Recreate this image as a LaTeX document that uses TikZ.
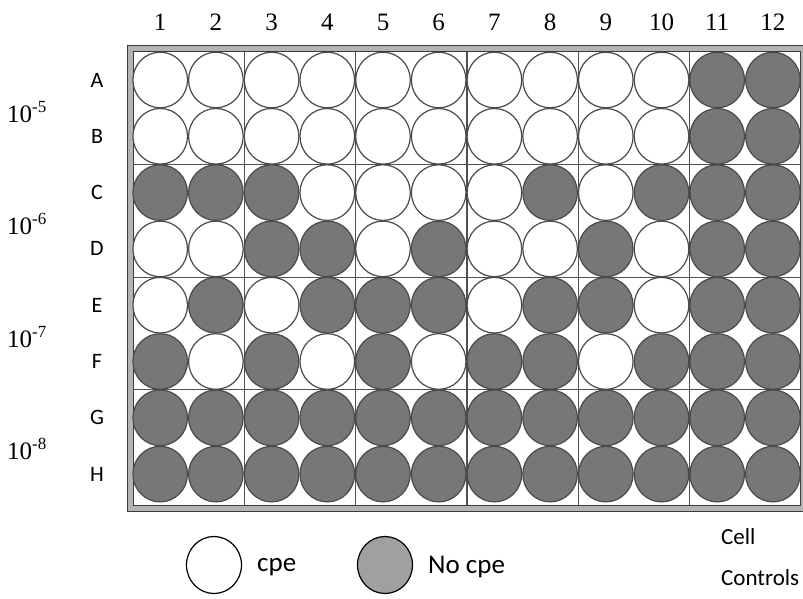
\documentclass[tikz,border=0pt]{standalone}
\usepackage{fontspec}
\setmainfont{Liberation Serif}
\newfontfamily\labfont{Carlito}
\usetikzlibrary{shapes.geometric}
\definecolor{wellgrey}{HTML}{777777}
\definecolor{wellline}{HTML}{4A4A4A}
\definecolor{framedark}{HTML}{3C3C3C}
\definecolor{frameband}{HTML}{B4B4B4}
\definecolor{divline}{HTML}{505050}
\definecolor{leggrey}{HTML}{A0A0A0}
\begin{document}
\begin{tikzpicture}[x=1pt,y=-1pt,
  well/.style={ellipse, draw=wellline, line width=1.2pt, minimum width=54.6pt, minimum height=55.6pt, inner sep=0pt},
  collab/.style={font=\fontsize{25}{29}\selectfont, inner sep=0pt},
  rowlab/.style={font=\labfont\fontsize{22}{26}\selectfont, inner sep=0pt},
  dil/.style={font=\fontsize{25}{29}\selectfont, inner sep=0pt, anchor=base west},
  legcirc/.style={ellipse, draw=black, line width=1.2pt, minimum width=55pt, minimum height=57pt, inner sep=0pt},
  leglab/.style={font=\labfont\fontsize{27}{32}\selectfont, inner sep=0pt, anchor=west},
  divider/.style={draw=divline, line width=1.3pt}]
\useasboundingbox (0,0) rectangle (803,598);
% plate frame
\draw[draw=framedark, fill=frameband, line width=1pt] (127.5,45.5) rectangle (812,511);
\draw[draw=gray!60, line width=0.7pt] (129.8,47.8) rectangle (810,508.7);
\draw[draw=framedark, fill=white, line width=1pt] (133,51.5) rectangle (800.5,505);
% block dividers
\foreach \k in {1,...,5}
  \draw[divider] ({133+\k*111.3},51.5) -- ({133+\k*111.3},505);
\foreach \k in {1,2,3}
  \draw[divider] (133,{52+\k*112.6}) -- (800.5,{52+\k*112.6});
% wells
\foreach \pat [count=\ri] in {
  {0,0,0,0,0,0,0,0,0,0,1,1},
  {0,0,0,0,0,0,0,0,0,0,1,1},
  {1,1,1,0,0,0,0,1,0,1,1,1},
  {0,0,1,1,0,1,0,0,1,0,1,1},
  {0,1,0,1,1,1,0,1,1,0,1,1},
  {1,0,1,0,1,0,1,1,0,1,1,1},
  {1,1,1,1,1,1,1,1,1,1,1,1},
  {1,1,1,1,1,1,1,1,1,1,1,1}} {
  \foreach \v [count=\ci] in \pat {
    \ifnum\v=1 \def\fc{wellgrey}\else\def\fc{white}\fi
    \node[well, fill=\fc] (w\ri-\ci) at ({160.2+(\ci-1)*55.7},{80+(\ri-1)*56.3}) {};
  }
}
% column labels
\foreach \ci in {1,...,12}
  \node[collab] (c\ci) at ({160.2+(\ci-1)*55.7},22) {\ci};
% row labels
\foreach \r [count=\ri] in {A,B,C,D,E,F,G,H}
  \node[rowlab] (r\r) at (97,{80+(\ri-1)*56.3}) {\r};
% dilutions
\foreach \e [count=\k] in {5,6,7,8}
  \node[dil] (d\e) at (7,{122+(\k-1)*112.6}) {10\raisebox{10pt}{\fontsize{17}{19}\selectfont -\e}};
% legend
\node[legcirc, fill=white] (lw) at (214,565) {};
\node[leglab] (lt1) at (257,567) {cpe};
\node[legcirc, fill=leggrey] (lg) at (385,565) {};
\node[leglab] (lt2) at (428,567) {No cpe};
\node[font=\labfont\fontsize{23}{41}\selectfont, inner sep=0pt, anchor=north west, align=left] (cc) at (721,528) {Cell\\Controls};
\end{tikzpicture}
\end{document}
